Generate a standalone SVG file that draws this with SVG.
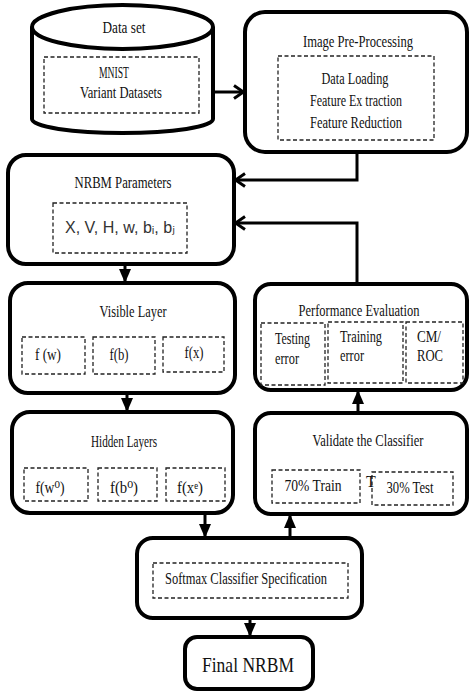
<svg xmlns="http://www.w3.org/2000/svg" width="471" height="692" viewBox="0 0 471 692">
<defs>
<marker id="tri" markerUnits="userSpaceOnUse" markerWidth="14" markerHeight="12" viewBox="0 0 14 12" refX="13" refY="6" orient="auto">
<path d="M0,0 L14,6 L0,12 z" fill="#000"/>
</marker>
<marker id="chev" markerUnits="userSpaceOnUse" markerWidth="14" markerHeight="16" viewBox="0 0 14 16" refX="12" refY="8" orient="auto">
<path d="M2,1.5 L11.5,8 L2,14.5" fill="none" stroke="#000" stroke-width="3"/>
</marker>
<style>
.box{fill:#fff;stroke:#000;stroke-width:4}
.dash{fill:none;stroke:#222;stroke-width:1.3;stroke-dasharray:4 2.5}
.t{font-family:"Liberation Serif","Times New Roman","DejaVu Serif",serif;font-size:16px;fill:#111}
.c{text-anchor:middle}
.ln{fill:none;stroke:#000;stroke-width:3}
</style>
</defs>

<g id="dataset">
<path class="box" d="M32,27 L32,119 A90.5,14 0 0 0 213,119 L213,27"/>
<ellipse class="box" cx="122.5" cy="27" rx="90.5" ry="22"/>
<rect class="dash" x="44" y="57" width="155" height="56"/>
<text class="t c" x="124" y="33" textLength="43" lengthAdjust="spacingAndGlyphs">Data set</text>
<text class="t c" x="114" y="78" textLength="30" lengthAdjust="spacingAndGlyphs">MNIST</text>
<text class="t c" x="121" y="98" textLength="82" lengthAdjust="spacingAndGlyphs">Variant Datasets</text>
</g>

<g id="preprocessing">
<rect class="box" x="245" y="12" width="222" height="140" rx="20"/>
<rect class="dash" x="278" y="56" width="156" height="84"/>
<text class="t c" x="358" y="47" textLength="110" lengthAdjust="spacingAndGlyphs">Image Pre-Processing</text>
<text class="t c" x="355" y="84" textLength="67" lengthAdjust="spacingAndGlyphs">Data Loading</text>
<text class="t c" x="356" y="106" textLength="92" lengthAdjust="spacingAndGlyphs">Feature Ex traction</text>
<text class="t c" x="356" y="128" textLength="92" lengthAdjust="spacingAndGlyphs">Feature Reduction</text>
</g>

<g id="nrbm-params">
<rect class="box" x="8" y="155" width="226" height="109" rx="18"/>
<rect class="dash" x="53" y="203" width="134" height="50"/>
<text class="t c" x="123" y="188" textLength="97" lengthAdjust="spacingAndGlyphs">NRBM Parameters</text>
<text x="120" y="233" text-anchor="middle" font-family="Liberation Sans, DejaVu Sans, Arial, sans-serif" font-size="17" fill="#333" textLength="110" lengthAdjust="spacingAndGlyphs">X, V, H, w, bᵢ, bⱼ</text>
</g>

<g id="visible-layer">
<rect class="box" x="10" y="283" width="225" height="110" rx="18"/>
<text class="t c" x="133" y="317" textLength="67" lengthAdjust="spacingAndGlyphs">Visible Layer</text>
<rect class="dash" x="22" y="337" width="63" height="37"/>
<rect class="dash" x="93" y="337" width="62" height="37"/>
<rect class="dash" x="163" y="337" width="61" height="35"/>
<text class="t c" x="48" y="360" textLength="26" lengthAdjust="spacingAndGlyphs">f (w)</text>
<text class="t c" x="119" y="360" textLength="19" lengthAdjust="spacingAndGlyphs">f(b)</text>
<text class="t c" x="194" y="358" textLength="19" lengthAdjust="spacingAndGlyphs">f(x)</text>
</g>

<g id="hidden-layers">
<rect class="box" x="12" y="412" width="221" height="101" rx="18"/>
<text class="t c" x="124" y="447" textLength="66" lengthAdjust="spacingAndGlyphs">Hidden Layers</text>
<rect class="dash" x="24" y="468" width="64" height="33"/>
<rect class="dash" x="98" y="468" width="59" height="33"/>
<rect class="dash" x="166" y="468" width="59" height="33"/>
<text class="t c" x="50" y="493" textLength="29" lengthAdjust="spacingAndGlyphs">f(w⁰)</text>
<text class="t c" x="124" y="493" textLength="28" lengthAdjust="spacingAndGlyphs">f(b⁰)</text>
<text class="t c" x="190" y="493" textLength="26" lengthAdjust="spacingAndGlyphs">f(xᵉ)</text>
</g>

<g id="performance">
<rect class="box" x="255" y="284" width="212" height="106" rx="16"/>
<text class="t c" x="359" y="316" textLength="121" lengthAdjust="spacingAndGlyphs">Performance Evaluation</text>
<rect class="dash" x="261" y="323" width="64" height="62"/>
<rect class="dash" x="328" y="322" width="75" height="61"/>
<rect class="dash" x="406" y="322" width="57" height="61"/>
<text class="t" x="275" y="344" textLength="35" lengthAdjust="spacingAndGlyphs">Testing</text>
<text class="t" x="275" y="364" textLength="24" lengthAdjust="spacingAndGlyphs">error</text>
<text class="t" x="340" y="342" textLength="42" lengthAdjust="spacingAndGlyphs">Training</text>
<text class="t" x="340" y="361" textLength="24" lengthAdjust="spacingAndGlyphs">error</text>
<text class="t" x="417" y="342" textLength="24" lengthAdjust="spacingAndGlyphs">CM/</text>
<text class="t" x="417" y="361" textLength="26" lengthAdjust="spacingAndGlyphs">ROC</text>
</g>

<g id="validate">
<rect class="box" x="255" y="413" width="212" height="101" rx="16"/>
<text class="t c" x="368" y="446" textLength="111" lengthAdjust="spacingAndGlyphs">Validate the Classifier</text>
<rect class="dash" x="272" y="470" width="88" height="33"/>
<rect class="dash" x="372" y="472" width="81" height="33"/>
<text class="t c" x="313" y="491" textLength="57" lengthAdjust="spacingAndGlyphs">70% Train</text>
<text class="t" x="366" y="487" font-size="11">T</text>
<text class="t c" x="410" y="493" textLength="47" lengthAdjust="spacingAndGlyphs">30% Test</text>
</g>

<g id="softmax">
<rect class="box" x="137" y="538" width="225" height="80" rx="16"/>
<rect class="dash" x="153" y="563" width="195" height="35"/>
<text class="t c" x="246" y="584" textLength="162" lengthAdjust="spacingAndGlyphs">Softmax Classifier Specification</text>
</g>

<g id="final-nrbm">
<rect class="box" x="185" y="637" width="128" height="52" rx="12"/>
<text class="t c" x="248" y="672" style="font-size:22px" textLength="92" lengthAdjust="spacingAndGlyphs">Final NRBM</text>
</g>

<g id="connectors">
<path class="ln" d="M213,92 H244" marker-end="url(#chev)"/>
<path class="ln" d="M357,152 V180 H235" marker-end="url(#chev)"/>
<path class="ln" d="M357,284 V223 H235" marker-end="url(#chev)"/>
<path class="ln" d="M125,264 V282" marker-end="url(#tri)"/>
<path class="ln" d="M127,393 V411" marker-end="url(#tri)"/>
<path class="ln" d="M205,513 V537" marker-end="url(#tri)"/>
<path class="ln" d="M290,538 V515" marker-end="url(#tri)"/>
<path class="ln" d="M358,413 V391" marker-end="url(#tri)"/>
<path class="ln" d="M250,618 V636" marker-end="url(#tri)"/>
</g>
</svg>
